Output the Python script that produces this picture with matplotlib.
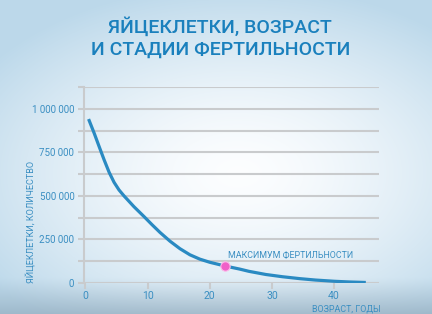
import numpy as np
import matplotlib.pyplot as plt

# chart data
ages = [0.5, 1.4, 2.2, 3.0, 3.8, 4.6, 5.4, 6.2, 7.8, 9.4, 10.7, 12.0, 13.6, 15.2,
        16.8, 18.4, 20.0, 22.4, 24.8, 26.3, 29.0, 31.7, 34.5, 37.0, 40.0, 42.4, 45.1]
eggs = [941000, 860000, 783000, 707000, 636000, 578000, 534000, 500000, 438000,
        382000, 335000, 290000, 240000, 197000, 162000, 137000, 119000, 98000,
        80000, 67000, 49000, 36000, 25000, 17000, 10000, 6000, 3000]
peak_age = 22.4
peak_eggs = 98000

y_ticks = [0, 250000, 500000, 750000, 1000000]
y_labels = ["0", "250 000", "500 000", "750 000", "1 000 000"]
x_ticks = [0, 10, 20, 30, 40]

title = "ЯЙЦЕКЛЕТКИ, ВОЗРАСТ\nИ СТАДИИ ФЕРТИЛЬНОСТИ"
y_title = "ЯЙЦЕКЛЕТКИ, КОЛИЧЕСТВО"
x_title = "ВОЗРАСТ, ГОДЫ"
peak_label = "МАКСИМУМ ФЕРТИЛЬНОСТИ"

blue = "#2a8ac2"
text_blue = "#3b8fc2"
grid_col = "#c9cbcd"

plt.rcParams["font.family"] = ["Roboto", "DejaVu Sans"]

fig = plt.figure(figsize=(4.32, 3.14), dpi=100)

# background: pale blue edges, white middle, darker bottom
bg = fig.add_axes([0, 0, 1, 1])
h, w = 314, 432
yy, xx = np.mgrid[0:h, 0:w]
fx = xx / w
fy = yy / h
r = np.sqrt(((fx - 0.55) / 0.7) ** 2 + ((fy - 0.55) / 0.6) ** 2)
t = np.clip(r, 0, 1) ** 1.5
white = np.array([0.99, 0.995, 1.0])
edge = np.array([0.74, 0.85, 0.92])
img = white[None, None, :] * (1 - t[..., None]) + edge[None, None, :] * t[..., None]
dark = np.clip((fy - 0.88) / 0.12, 0, 1) ** 1.2
bottom = np.array([0.58, 0.68, 0.75])
img = img * (1 - 0.75 * dark[..., None]) + bottom * 0.75 * dark[..., None]
bg.imshow(img, aspect="auto", extent=[0, 1, 0, 1])
bg.set_axis_off()

ax = fig.add_axes([0.1944, 0.0987, 0.877 - 0.1944, 0.7229 - 0.0987])
ax.patch.set_alpha(0)
ax.plot(ages, eggs, color=blue, lw=2.3, solid_capstyle="butt",
        solid_joinstyle="round", zorder=3)
ax.scatter([peak_age], [peak_eggs], s=45, color="#f060c8", edgecolor="#fbb8e8",
           linewidth=0.8, zorder=4)

ax.set_xlim(-0.24, 47.2)
ax.set_ylim(0, 1125000)
ax.set_yticks(y_ticks)
ax.set_yticklabels(y_labels)
ax.set_yticks(np.arange(125000, 1125001, 250000), minor=True)
ax.set_xticks(x_ticks)

for v in np.arange(0, 1125001, 125000):
    ax.axhline(v, color=grid_col, lw=1.5, zorder=1)

for s in ["top", "right", "bottom"]:
    ax.spines[s].set_visible(False)
ax.spines["left"].set_color(grid_col)
ax.spines["left"].set_linewidth(1.5)

ax.tick_params(axis="y", which="both", length=4, width=1.5, color=grid_col,
               labelcolor=text_blue, labelsize=7, pad=3)
ax.tick_params(axis="x", length=4, width=1.5, color=grid_col,
               labelcolor=text_blue, labelsize=7.5, pad=2)

ax.text(peak_age + 0.5, 165000, peak_label, color=text_blue, fontsize=6.4,
        ha="left", va="center")

fig.text(0.88, 0.003, x_title, color=text_blue, fontsize=6.4, ha="right", va="bottom")
fig.text(0.072, 0.293, y_title, color=text_blue, fontsize=6.6, rotation=90,
         ha="center", va="center")
fig.text(0.51, 0.88, title, color="#1a80bd", fontsize=14, fontweight="medium",
         ha="center", va="center", linespacing=1.25)

fig.savefig("out.png", dpi=100)
